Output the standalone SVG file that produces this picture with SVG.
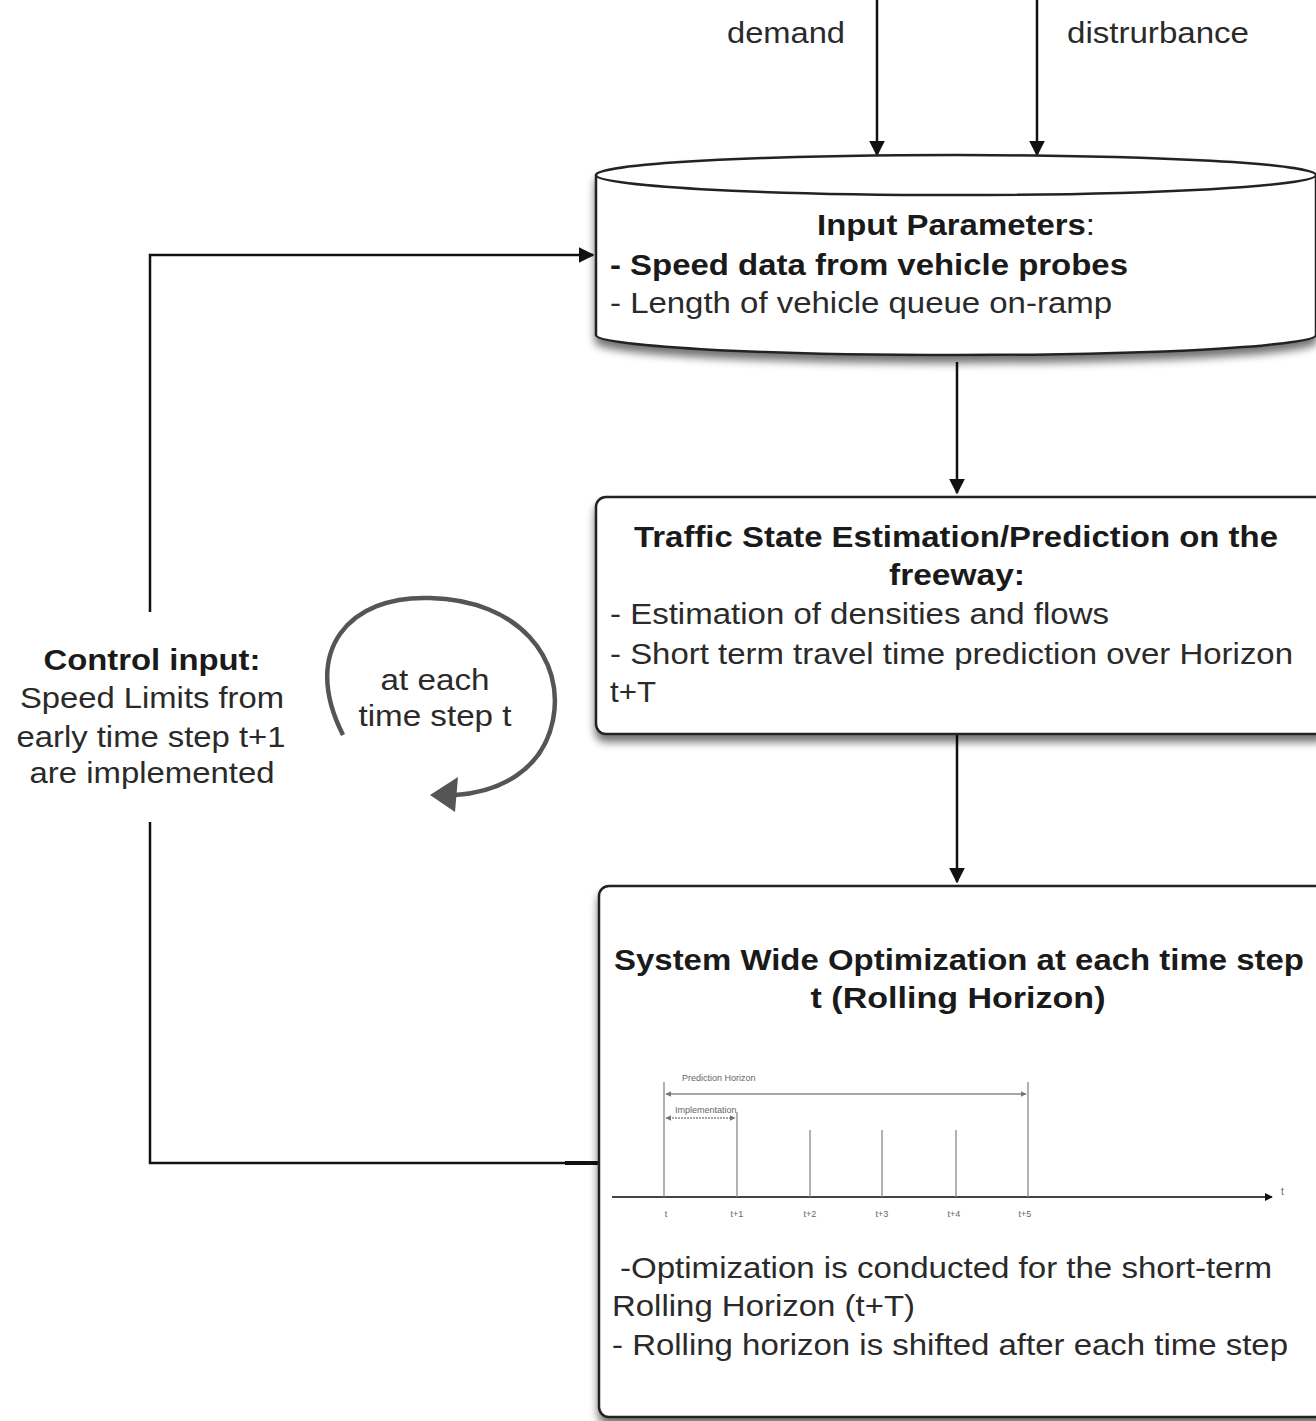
<svg xmlns="http://www.w3.org/2000/svg" width="1316" height="1421" viewBox="0 0 1316 1421">
<style>
text{font-family:"Liberation Sans",Arial,sans-serif;fill:#2a2a2a}
.t{font-size:29px}
.b{font-weight:bold;fill:#1a1a1a}
.c{text-anchor:middle}
.ln{fill:none;stroke:#111;stroke-width:2.5}
.nd{fill:#fff;stroke:#222;stroke-width:2.5}
.tl{fill:none;stroke:#888;stroke-width:1.3}
.sm{font-size:9px;fill:#666}
</style>
<defs>
<marker id="ah" viewBox="0 0 10 10" refX="9" refY="5" markerWidth="8" markerHeight="8" markerUnits="userSpaceOnUse" orient="auto"><path d="M0,0L10,5L0,10z" fill="#111"/></marker>
<marker id="ah2" viewBox="0 0 10 10" refX="9" refY="5" markerWidth="16" markerHeight="16" markerUnits="userSpaceOnUse" orient="auto"><path d="M0,0L10,5L0,10z" fill="#111"/></marker>
<marker id="sa" viewBox="0 0 10 10" refX="9" refY="5" markerWidth="6" markerHeight="6" markerUnits="userSpaceOnUse" orient="auto-start-reverse"><path d="M0,0L10,5L0,10z" fill="#777"/></marker>
<filter id="sh" x="-5%" y="-5%" width="115%" height="125%"><feGaussianBlur in="SourceAlpha" stdDeviation="4"/><feOffset dy="7"/><feComponentTransfer><feFuncA type="linear" slope="0.55"/></feComponentTransfer><feMerge><feMergeNode/><feMergeNode in="SourceGraphic"/></feMerge></filter>
</defs>

<g id="connectors">
<line class="ln" x1="877" y1="0" x2="877" y2="155" marker-end="url(#ah2)"/>
<line class="ln" x1="1037" y1="0" x2="1037" y2="155" marker-end="url(#ah2)"/>
<line class="ln" x1="957" y1="362" x2="957" y2="493" marker-end="url(#ah2)"/>
<line class="ln" x1="957" y1="730" x2="957" y2="882" marker-end="url(#ah2)"/>
<polyline class="ln" points="599,1163 150,1163 150,822"/>
<line x1="565" y1="1163" x2="599" y2="1163" stroke="#111" stroke-width="4"/>
<polyline class="ln" points="150,612 150,255 593,255" marker-end="url(#ah2)"/>
<path d="M343,735 C300,650 350,595 430,598 C520,600 565,660 553,720 C543,770 500,792 455,795" fill="none" stroke="#555" stroke-width="4.5"/>
<path d="M430,795 L458,777 L455,812 Z" fill="#555"/>
</g>

<g id="labels">
<text class="t c" x="786" y="43" textLength="118" lengthAdjust="spacingAndGlyphs">demand</text>
<text class="t c" x="1158" y="43" textLength="182" lengthAdjust="spacingAndGlyphs">distrurbance</text>
<text class="t c b" x="152" y="670" textLength="217" lengthAdjust="spacingAndGlyphs">Control input:</text>
<text class="t c" x="152" y="708" textLength="264" lengthAdjust="spacingAndGlyphs">Speed Limits from</text>
<text class="t c" x="151" y="747" textLength="269" lengthAdjust="spacingAndGlyphs">early time step t+1</text>
<text class="t c" x="152" y="783" textLength="245" lengthAdjust="spacingAndGlyphs">are implemented</text>
<text class="t c" x="435" y="690" textLength="109" lengthAdjust="spacingAndGlyphs">at each</text>
<text class="t c" x="435" y="726" textLength="153" lengthAdjust="spacingAndGlyphs">time step t</text>
</g>

<g id="input-parameters">
<path class="nd" filter="url(#sh)" d="M596,175 L596,335 A360,20 0 0 0 1316,335 L1316,175 A360,20 0 0 0 596,175 Z"/>
<path class="nd" d="M596,175 A360,20 0 0 0 1316,175"/>
<text class="t c b" x="956" y="235" textLength="278" lengthAdjust="spacingAndGlyphs">Input Parameters<tspan style="font-weight:normal">:</tspan></text>
<text class="t b" x="610" y="275" textLength="518" lengthAdjust="spacingAndGlyphs">- Speed data from vehicle probes</text>
<text class="t" x="610" y="313" textLength="502" lengthAdjust="spacingAndGlyphs">- Length of vehicle queue on-ramp</text>
</g>

<g id="traffic-state">
<rect class="nd" filter="url(#sh)" x="596" y="497" width="730" height="237" rx="10"/>
<text class="t c b" x="956" y="547" textLength="644" lengthAdjust="spacingAndGlyphs">Traffic State Estimation/Prediction on the</text>
<text class="t c b" x="957" y="585" textLength="136" lengthAdjust="spacingAndGlyphs">freeway:</text>
<text class="t" x="610" y="624" textLength="499" lengthAdjust="spacingAndGlyphs">- Estimation of densities and flows</text>
<text class="t" x="610" y="664" textLength="683" lengthAdjust="spacingAndGlyphs">- Short term travel time prediction over Horizon</text>
<text class="t" x="610" y="702" textLength="46" lengthAdjust="spacingAndGlyphs">t+T</text>
</g>

<g id="optimization">
<rect class="nd" filter="url(#sh)" x="599" y="886" width="730" height="531" rx="10"/>
<text class="t c b" x="959" y="970" textLength="690" lengthAdjust="spacingAndGlyphs">System Wide Optimization at each time step</text>
<text class="t c b" x="958" y="1008" textLength="295" lengthAdjust="spacingAndGlyphs">t  (Rolling Horizon)</text>
<g id="timeline">
<line x1="612" y1="1197" x2="1272" y2="1197" stroke="#444" stroke-width="2" marker-end="url(#ah)"/>
<text x="1281" y="1195" style="font-size:10px;fill:#666">t</text>
<line class="tl" x1="664" y1="1082" x2="664" y2="1197"/>
<line class="tl" x1="737" y1="1112" x2="737" y2="1197"/>
<line class="tl" x1="810" y1="1130" x2="810" y2="1197"/>
<line class="tl" x1="882" y1="1130" x2="882" y2="1197"/>
<line class="tl" x1="956" y1="1130" x2="956" y2="1197"/>
<line class="tl" x1="1028" y1="1082" x2="1028" y2="1197"/>
<line class="tl" x1="666" y1="1094" x2="1026" y2="1094" marker-start="url(#sa)" marker-end="url(#sa)"/>
<line class="tl" x1="666" y1="1118" x2="735" y2="1118" stroke-dasharray="2 1" marker-start="url(#sa)" marker-end="url(#sa)"/>
<text class="sm" x="682" y="1081">Prediction Horizon</text>
<text class="sm" x="675" y="1113">Implementation</text>
<text class="sm c" x="666" y="1217">t</text>
<text class="sm c" x="737" y="1217">t+1</text>
<text class="sm c" x="810" y="1217">t+2</text>
<text class="sm c" x="882" y="1217">t+3</text>
<text class="sm c" x="954" y="1217">t+4</text>
<text class="sm c" x="1025" y="1217">t+5</text>
</g>
<text class="t" x="620" y="1278" textLength="652" lengthAdjust="spacingAndGlyphs">-Optimization is conducted for the short-term</text>
<text class="t" x="612" y="1316" textLength="303" lengthAdjust="spacingAndGlyphs">Rolling Horizon (t+T)</text>
<text class="t" x="612" y="1355" textLength="676" lengthAdjust="spacingAndGlyphs">- Rolling horizon is shifted after each time step</text>
</g>
</svg>
